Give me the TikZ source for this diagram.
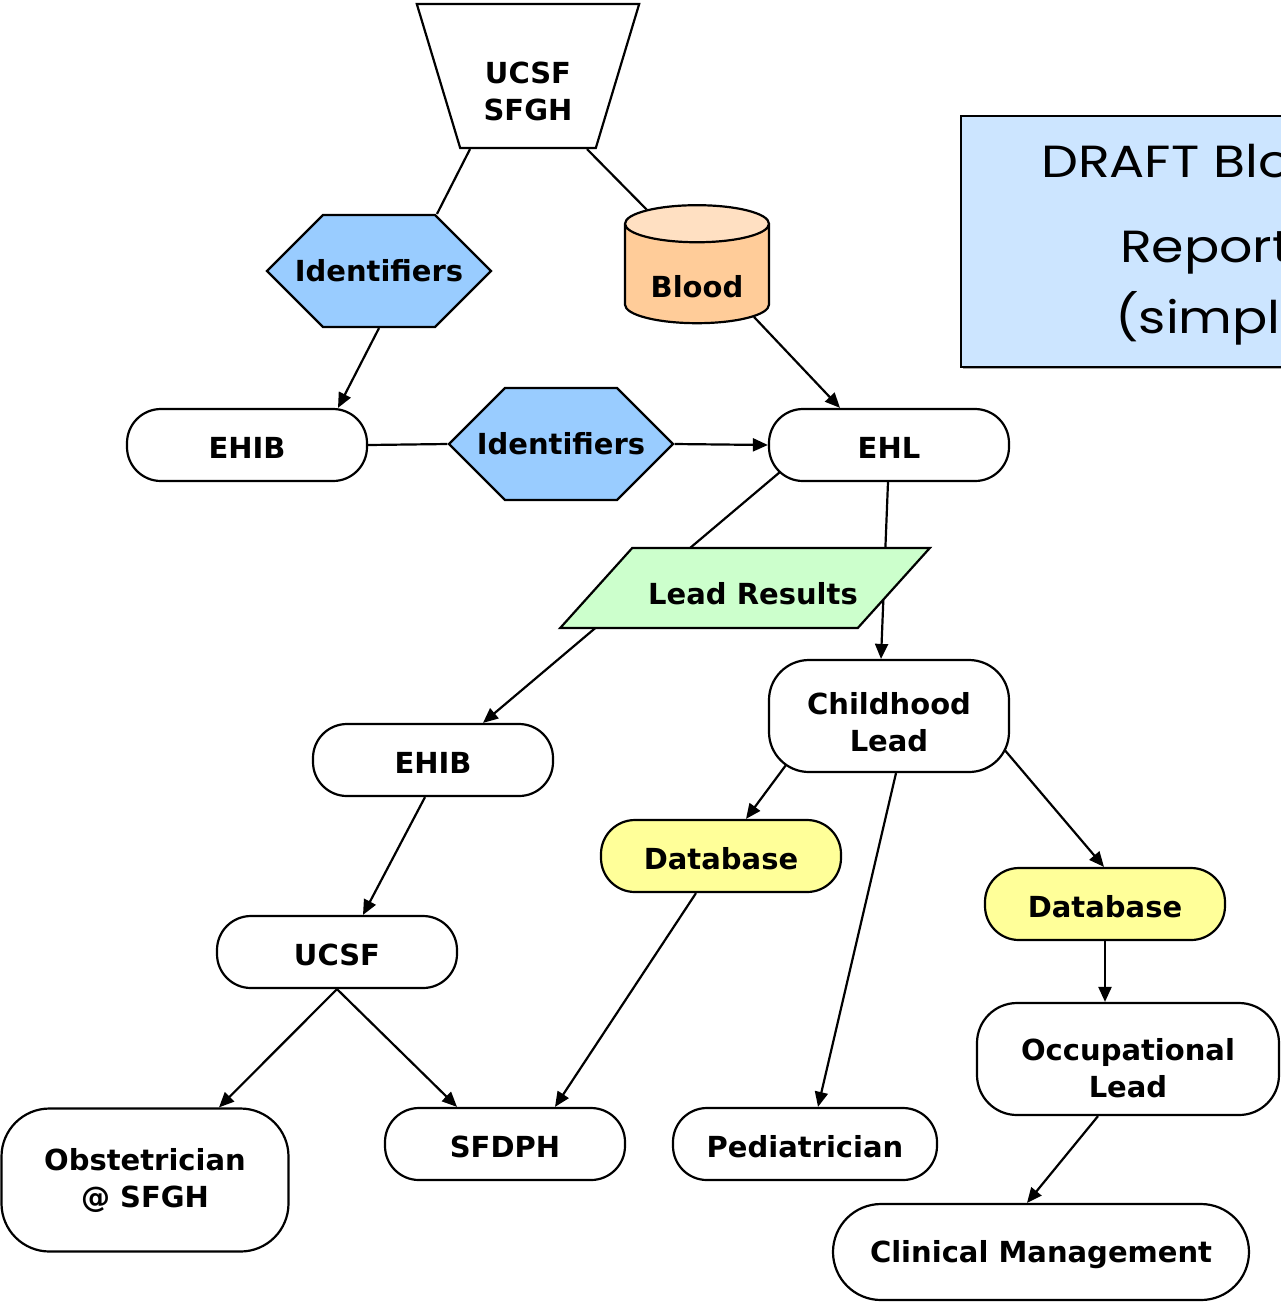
\documentclass[tikz,border=0pt]{standalone}
\usepackage{fontspec}
\setmainfont{DejaVu Sans}
\newfontfamily\draftfont[FakeStretch=1.16]{Poppins}
\usetikzlibrary{shapes.geometric,shapes.symbols,arrows.meta,backgrounds}
\definecolor{idblue}{HTML}{99CCFF}
\definecolor{bloodbody}{HTML}{FFCC99}
\definecolor{bloodtop}{HTML}{FFE0C2}
\definecolor{resgreen}{HTML}{CCFFCC}
\definecolor{dbyellow}{HTML}{FFFF99}
\definecolor{draftblue}{HTML}{CCE5FF}

\begin{document}
\begin{tikzpicture}[x=0.5pt,y=-0.5pt,
	every node/.style={font=\fontsize{14.5}{18.5}\selectfont\bfseries,align=center,inner sep=0pt,line width=1.1pt},
	term/.style={draw,fill=white,rounded corners=17pt,minimum width=120pt,minimum height=36pt},
	tallterm/.style={term,rounded corners=20pt,minimum height=56pt},
	ident/.style={draw,fill=idblue,signal,signal to=east and west,signal pointer angle=90,minimum height=56pt},
	dbase/.style={term,fill=dbyellow},
	draftline/.style={font=\draftfont\fontsize{22.5}{27}\selectfont,anchor=base west},
	link/.style={line width=1.1pt},
	arr/.style={link,->,>={Triangle[length=7.5pt,width=6.5pt]}}]
	\useasboundingbox (0,0) rectangle (1281,1303);
	\clip (0,0) rectangle (1281,1303);
	
	%title box
	\fill[gray!70] (963,118) rectangle (1300,369);
	\draw[line width=1.1pt,fill=draftblue] (961,116) rectangle (1300,367);
	\node[draftline] (draft1) at (1040,177) {DRAFT Blood};
	\node[draftline] (draft2) at (1119,262) {Reporting};
	\node[draftline] (draft3) at (1114,333) {(simplified)};
	
	%sources
	\node[draw,fill=white,trapezium,trapezium left angle=107.4,trapezium right angle=107.4,trapezium stretches=true,
		minimum width=111.5pt,minimum height=72pt] (src) at (528,76) {\rule{0pt}{26.6pt}UCSF\\SFGH};
	\node[ident] (id1) at (379,271) {\makebox[56pt]{Identifiers}};
	\node[draw,cylinder,shape border rotate=90,aspect=0.4,minimum width=72pt,minimum height=59pt,
		cylinder uses custom fill,cylinder body fill=bloodbody,cylinder end fill=bloodtop] (blood) at (697,274) {\rule{0pt}{24pt}Blood};
	
	%second row
	\node[term] (ehib) at (247,445) {\rule{0pt}{13.5pt}EHIB};
	\node[ident] (id2) at (561,444) {\makebox[56pt]{Identifiers}};
	\node[term] (ehl) at (889,445) {\rule{0pt}{13.5pt}EHL};
	
	%lead results
	\node[draw,fill=resgreen,trapezium,trapezium left angle=48,trapezium right angle=132,trapezium stretches body=true,
		minimum width=184pt] (res) at (745,588) {\rule[-11.7pt]{0pt}{40pt}\hspace{8pt}Lead Results};
	
	%lower part
	\node[tallterm] (child) at (889,716) {\rule{0pt}{17pt}Childhood\\Lead};
	\node[term] (ehib2) at (433,760) {\rule{0pt}{13.5pt}EHIB};
	\node[dbase] (db1) at (721,856) {\rule{0pt}{13.5pt}Database};
	\node[dbase] (db2) at (1105,904) {\rule{0pt}{13.5pt}Database};
	\node[term] (ucsf) at (337,952) {\rule{0pt}{13.5pt}UCSF};
	\node[tallterm,minimum width=151pt] (occ) at (1128,1059) {\rule{0pt}{20pt}Occupational\\Lead};
	\node[term,rounded corners=24pt,minimum width=143.5pt,minimum height=71.5pt] (obst) at (145,1180) {Obstetrician\\@ SFGH};
	\node[term] (sfdph) at (505,1144) {\rule{0pt}{13.5pt}SFDPH};
	\node[term,minimum width=132pt] (ped) at (805,1144) {\rule{0pt}{13.5pt}Pediatrician};
	\node[term,rounded corners=24pt,minimum width=208pt,minimum height=48pt] (clin) at (1041,1252) {\rule{0pt}{13.5pt}Clinical Management};
	
	%connectors
	\begin{scope}[on background layer]
	\draw[link] ([xshift=-29pt]src.south) -- ([xshift=29pt]id1.north);
	\draw[link] ([xshift=29.5pt]src.south) -- (blood.128);
	\draw[arr] (id1.south) -- ([xshift=45.5pt]ehib.north);
	\draw[arr] (blood.-37) -- ([xshift=-24.5pt]ehl.north);
	\draw[link] (ehib.east) -- (id2.west);
	\draw[arr] (id2.east) -- (ehl.west);
	\draw[arr] ([shift={(-109,27)}]ehl.center) -- ([xshift=25pt]ehib2.north);
	\draw[arr] ([xshift=-0.5pt]ehl.south) -- ([xshift=-4pt]child.north);
	\draw[arr] ([shift={(-103,49)}]child.center) -- ([xshift=12.5pt]db1.north);
	\draw[arr] ([xshift=3.5pt]child.south) -- ([xshift=6.5pt]ped.north);
	\draw[arr] ([shift={(114,32)}]child.center) -- ([xshift=-0.5pt]db2.north);
	\draw[arr] ([xshift=-4pt]ehib2.south) -- ([xshift=13pt]ucsf.north);
	\draw[arr] ([xshift=-12.5pt]db1.south) -- ([xshift=25pt]sfdph.north);
	\draw[arr] (ucsf.south) -- ([xshift=37pt]obst.north);
	\draw[arr] (ucsf.south) -- ([xshift=-24pt]sfdph.north);
	\draw[arr] (db2.south) -- ([xshift=-11.5pt]occ.north);
	\draw[arr] ([xshift=-15pt]occ.south) -- ([xshift=-7pt]clin.north);
	\end{scope}
\end{tikzpicture}
\end{document}
